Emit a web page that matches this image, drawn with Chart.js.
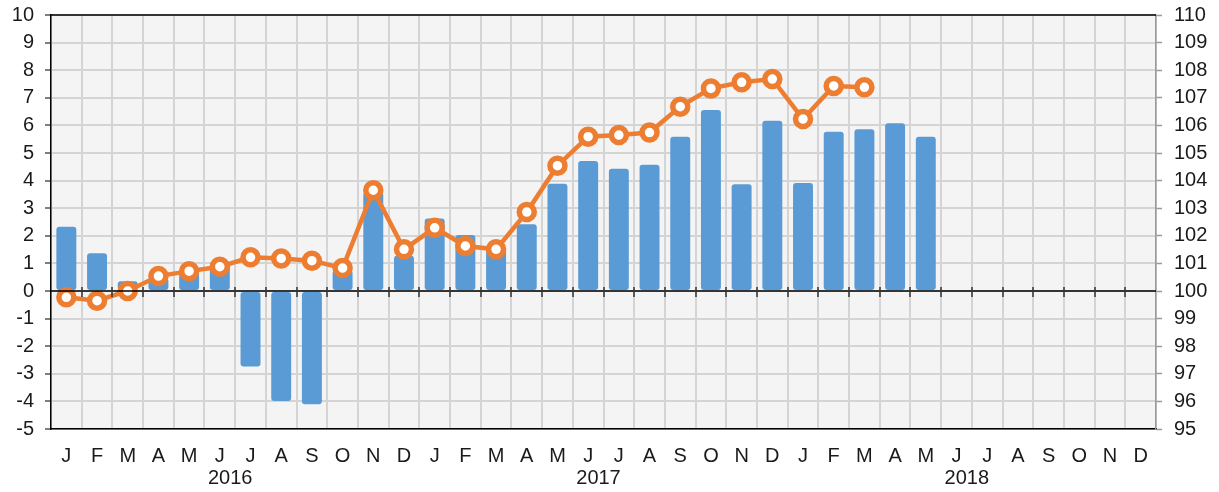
<!DOCTYPE html>
<html>
<head>
<meta charset="utf-8">
<script src="https://cdn.jsdelivr.net/npm/chart.js@4/dist/chart.umd.min.js"></script>
<style>
  html, body { margin: 0; padding: 0; background: #fff; }
  #wrap { width: 1219px; height: 492px; }
</style>
</head>
<body>
<div id="wrap"><canvas id="chart1" width="1219" height="492"></canvas></div>
<script>
// Monthly values, Jan 2016 - Dec 2018
const months = ['J','F','M','A','M','J','J','A','S','O','N','D',
                'J','F','M','A','M','J','J','A','S','O','N','D',
                'J','F','M','A','M','J','J','A','S','O','N','D'];
const years = ['2016', '2017', '2018'];
// bars, left axis (%)
const change = [2.33, 1.37, 0.35, 0.45, 0.7, 0.95, -2.74, -3.99, -4.1, 0.74, 3.58, 1.28,
                2.63, 2.03, 1.6, 2.42, 3.89, 4.71, 4.43, 4.57, 5.59, 6.56, 3.87, 6.17,
                3.91, 5.77, 5.86, 6.08, 5.59, null, null, null, null, null, null, null];
// line, right axis (index)
const index = [99.77, 99.65, 100.0, 100.54, 100.72, 100.88, 101.22, 101.18, 101.1, 100.83, 103.65, 101.51,
               102.29, 101.63, 101.51, 102.86, 104.54, 105.59, 105.65, 105.74, 106.68, 107.34, 107.56, 107.68,
               106.23, 107.43, 107.38, null, null, null, null, null, null, null, null, null];
const leftTicks = [-5, 10];
const rightTicks = [95, 110];

const font = { family: 'Liberation Sans, Arial, sans-serif', size: 20 };
const textColor = '#1a1a1a';
const gridColor = '#d4d4d4';

// plot background
const bgPlugin = {
    id: 'bg',
    beforeDraw(chart) {
        const a = chart.chartArea, ctx = chart.ctx;
        ctx.save();
        ctx.fillStyle = '#f4f4f4';
        ctx.fillRect(a.left, a.top, a.right - a.left, a.bottom - a.top);
        ctx.restore();
    }
};

// zero line with ticks, top border, year labels
const extraPlugin = {
    id: 'extra',
    afterDatasetsDraw(chart) {
        const a = chart.chartArea, ctx = chart.ctx;
        const x = chart.scales.x, y = chart.scales.y;
        const y0 = y.getPixelForValue(0);
        ctx.save();
        ctx.strokeStyle = '#000';
        ctx.lineWidth = 1.5;
        ctx.beginPath();
        ctx.moveTo(a.left, y0);
        ctx.lineTo(a.right, y0);
        ctx.moveTo(a.left, a.top);
        ctx.lineTo(a.right, a.top);
        ctx.stroke();
        ctx.strokeStyle = '#333';
        ctx.lineWidth = 1.5;
        ctx.beginPath();
        for (let i = 1; i < months.length; i++) {
            const px = Math.round((x.getPixelForValue(i - 1) + x.getPixelForValue(i)) / 2);
            ctx.moveTo(px, y0 - 4);
            ctx.lineTo(px, y0 + 6);
        }
        ctx.stroke();
        ctx.restore();
    },
    afterDraw(chart) {
        const x = chart.scales.x, ctx = chart.ctx;
        ctx.save();
        ctx.fillStyle = textColor;
        ctx.font = font.size + 'px ' + font.family;
        ctx.textAlign = 'center';
        ctx.textBaseline = 'middle';
        years.forEach((yr, k) => {
            const px = (x.getPixelForValue(k * 12 + 5) + x.getPixelForValue(k * 12 + 6)) / 2 - 5;
            ctx.fillText(yr, px, 478);
        });
        ctx.restore();
    }
};

new Chart(document.getElementById('chart1').getContext('2d'), {
    data: {
        labels: months,
        datasets: [
            {
                type: 'line',
                data: index,
                yAxisID: 'y2',
                borderColor: '#ED7D31',
                borderWidth: 4.5,
                pointRadius: 7.5,
                pointBorderWidth: 5.5,
                pointBackgroundColor: '#fff',
                pointBorderColor: '#ED7D31',
                tension: 0,
                order: 0
            },
            {
                type: 'bar',
                data: change,
                yAxisID: 'y',
                backgroundColor: '#5B9BD5',
                borderRadius: 3,
                borderSkipped: false,
                categoryPercentage: 1,
                barPercentage: 0.65,
                order: 1
            }
        ]
    },
    options: {
        responsive: false,
        animation: false,
        layout: { padding: { top: 15 } },
        plugins: { legend: { display: false }, tooltip: { enabled: false } },
        scales: {
            x: {
                type: 'category',
                offset: true,
                grid: { offset: true, color: gridColor, lineWidth: 2, drawTicks: false },
                border: { display: true, color: '#000', width: 1.5 },
                ticks: { font: font, color: textColor, padding: 15, maxRotation: 0, autoSkip: false },
                afterFit(s) { s.height = 63; }
            },
            y: {
                position: 'left',
                min: leftTicks[0],
                max: leftTicks[1],
                ticks: { stepSize: 1, font: font, color: textColor, padding: 11 },
                grid: { color: gridColor, lineWidth: 2, tickLength: 6, tickColor: '#555', tickWidth: 1.5 },
                border: { color: '#000', width: 1.5 },
                afterFit(s) { s.width = 51; s.paddingTop = 0; s.paddingBottom = 0; }
            },
            y2: {
                position: 'right',
                min: rightTicks[0],
                max: rightTicks[1],
                ticks: { stepSize: 1, font: font, color: textColor, padding: 12 },
                grid: { drawOnChartArea: false, tickLength: 6, tickColor: '#999', tickWidth: 1.5 },
                border: { color: '#999', width: 1.5 },
                afterFit(s) { s.width = 63; s.paddingTop = 0; s.paddingBottom = 0; }
            }
        }
    },
    plugins: [bgPlugin, extraPlugin]
});
</script>
</body>
</html>
